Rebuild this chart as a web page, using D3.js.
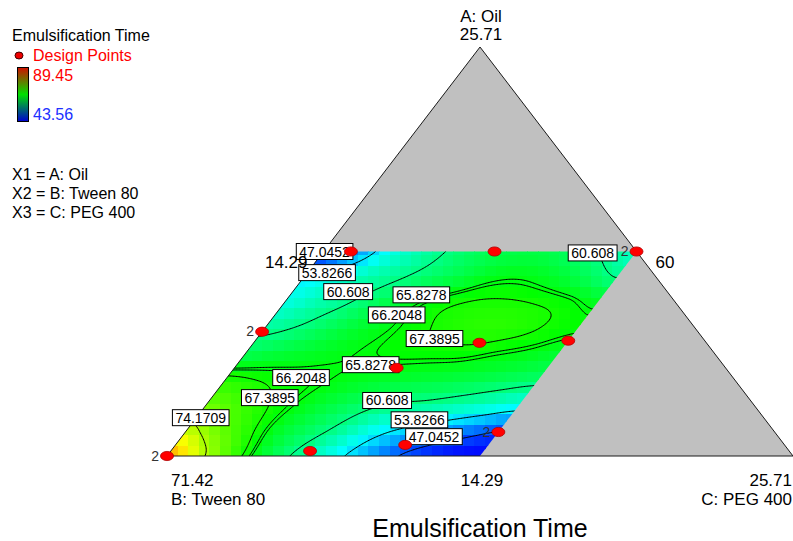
<!DOCTYPE html>
<html>
<head>
<meta charset="utf-8">
<script src="https://cdn.jsdelivr.net/npm/d3@7"></script>
<style>
  html, body { margin: 0; padding: 0; background: #ffffff; }
  svg { display: block; font-family: Arial, "Liberation Sans", sans-serif; }
</style>
</head>
<body>
<svg id="chart" width="793" height="541"></svg>
<script>
// ---- Mixture: A = Oil, B = Tween 80, C = PEG 400 (total 100 %) ----
const componentNames = ["A: Oil", "B: Tween 80", "C: PEG 400"];
const componentLow = [14.29, 60.00, 14.29];
const componentHigh = [25.71, 71.42, 25.71];

// Constrained region: A <= 20, C <= 20 (grid of predicted response)
const oilLevels = [14.29, 15.00, 15.72, 16.43, 17.15, 17.86, 18.57, 19.29, 20.00];
const pegLevels = [14.29, 14.86, 15.43, 16.00, 16.57, 17.15, 17.72, 18.29, 18.86, 19.43, 20.00];
// Emulsification time, one row per oil level (low -> high), one column per PEG level (low -> high)
const emulsificationTime = [
  [82.0, 75.5, 69.5, 64.4, 60.3, 56.5, 52.5, 48.3, 45.5, 44.0, 43.6],
  [75.5, 71.5, 68.0, 64.5, 62.0, 59.2, 55.5, 53.0, 51.0, 49.0, 47.3],
  [71.5, 69.5, 67.4, 65.5, 63.5, 61.7, 60.3, 59.7, 58.6, 57.3, 55.8],
  [68.0, 67.3, 66.6, 66.1, 65.3, 64.6, 64.1, 63.7, 63.2, 62.5, 61.8],
  [63.0, 64.0, 64.8, 65.5, 66.1, 66.5, 66.6, 66.6, 66.0, 65.4, 64.4],
  [59.6, 60.8, 62.6, 64.4, 65.8, 67.1, 67.9, 68.3, 68.0, 67.2, 66.4],
  [56.5, 58.6, 60.4, 62.6, 65.2, 66.8, 67.5, 67.6, 67.3, 66.6, 65.2],
  [54.0, 56.0, 58.5, 60.2, 61.9, 63.6, 65.3, 65.6, 64.6, 62.8, 60.5],
  [44.5, 50.0, 55.5, 58.5, 60.8, 62.5, 63.3, 63.3, 62.0, 60.2, 57.5]
];

// Contour levels and where each level is labelled (oil %, PEG %)
const contourLevels = [47.0452, 53.8266, 60.608, 65.8278, 66.2048, 67.3895, 74.1709];
const labelLevel = [47.0452, 53.8266, 60.608, 65.8278, 66.2048, 67.3895, 60.608, 65.8278, 66.2048, 67.3895, 74.1709, 60.608, 53.8266, 47.0452];
const labelOil   = [20.00, 19.41, 18.88, 18.79, 18.23, 17.57, 19.96, 16.84, 16.48, 15.92, 15.36, 15.84, 15.30, 14.83];
const labelPeg   = [14.31, 14.65, 15.30, 16.68, 16.51, 17.53, 19.22, 16.73, 15.64, 15.35, 14.37, 17.53, 18.39, 18.89];

// Design points (oil %, PEG %) and number of replicates
const designOil = [14.29, 17.76, 20.00, 20.00, 20.00, 17.51, 17.45, 16.75, 14.96, 14.60, 14.43];
const designPeg = [14.29, 14.29, 14.79, 17.41, 20.00, 20.00, 18.41, 17.25, 20.00, 18.48, 16.83];
const designReplicates = [2, 2, 1, 1, 2, 1, 1, 1, 2, 1, 1];

// Response range shown in the legend
const responseRange = [43.56, 89.45];
const legendFactors = ["X1 = A: Oil", "X2 = B: Tween 80", "X3 = C: PEG 400"];

// ---------------------------------------------------------------
const svg = d3.select("#chart");
const span = componentHigh[0] - componentLow[0];

// Ternary layout: fraction of A goes up, fraction of C goes right
const xScale = d3.scaleLinear().domain([0, 1]).range([167, 793]);
const yScale = d3.scaleLinear().domain([0, 1]).range([456, 47]);

function project(A, C) {
  const a = (A - componentLow[0]) / span;
  const c = (C - componentLow[2]) / span;
  return [xScale(c + a / 2), yScale(a)];
}
function unproject(x, y) {
  const a = yScale.invert(y);
  const c = xScale.invert(x) - a / 2;
  return [componentLow[0] + a * span, componentLow[2] + c * span];
}

// Smooth (Catmull-Rom) lookup in the response grid
const nr = oilLevels.length, nc = pegLevels.length;
const rowIndex = d3.scaleLinear().domain([oilLevels[0], oilLevels[nr - 1]]).range([0, nr - 1]).clamp(true);
const colIndex = d3.scaleLinear().domain([pegLevels[0], pegLevels[nc - 1]]).range([0, nc - 1]).clamp(true);
function gridAt(i, j) {
  i = Math.max(0, Math.min(nr - 1, i));
  j = Math.max(0, Math.min(nc - 1, j));
  return emulsificationTime[i][j];
}
function cr(p0, p1, p2, p3, t) {
  return 0.5 * (2 * p1 + (-p0 + p2) * t + (2 * p0 - 5 * p1 + 4 * p2 - p3) * t * t + (-p0 + 3 * p1 - 3 * p2 + p3) * t * t * t);
}
function predict(A, C) {
  const fi = rowIndex(A), fj = colIndex(C);
  const i = Math.min(Math.floor(fi), nr - 2), j = Math.min(Math.floor(fj), nc - 2);
  const ti = fi - i, tj = fj - j;
  const r = [-1, 0, 1, 2].map(di => cr(gridAt(i + di, j - 1), gridAt(i + di, j), gridAt(i + di, j + 1), gridAt(i + di, j + 2), tj));
  return cr(r[0], r[1], r[2], r[3], ti);
}
function predictAt(x, y) {
  const [A, C] = unproject(x, y);
  return predict(A, C);
}

const t0 = responseRange[0], t1 = responseRange[1];
const colorScale = d3.scaleLinear()
  .domain(d3.range(5).map(k => t0 + (t1 - t0) * k / 4))
  .range(["#0000ff", "#00ffff", "#00ff00", "#ffff00", "#ff0000"])
  .clamp(true);

// ---- Simplex ----
const vA = project(componentHigh[0], componentLow[2]);
const vB = project(componentLow[0], componentLow[2]);
const vC = project(componentLow[0], componentHigh[2]);
const triPath = "M" + [vA, vB, vC].map(p => p.join(",")).join("L") + "Z";
svg.append("path").attr("d", triPath).attr("fill", "#c0c0c0");

// Feasible region
const regionCorners = [
  project(oilLevels[0], pegLevels[0]),
  project(oilLevels[0], pegLevels[nc - 1]),
  project(oilLevels[nr - 1], pegLevels[nc - 1]),
  project(oilLevels[nr - 1], pegLevels[0])
];
const defs = svg.append("defs");
defs.append("clipPath").attr("id", "region")
  .append("path").attr("d", "M" + regionCorners.map(p => p.join(",")).join("L") + "Z");

const xs = regionCorners.map(p => p[0]), ys = regionCorners.map(p => p[1]);
const bx0 = d3.min(xs) - 4, bx1 = d3.max(xs) + 4, by0 = d3.min(ys) - 4, by1 = d3.max(ys) + 4;

// Colour field drawn as screen-aligned cells
const cell = 10.6;
const field = svg.append("g").attr("clip-path", "url(#region)").attr("shape-rendering", "crispEdges");
const baseY = vB[1];
for (let yTop = baseY - cell; yTop > by0 - cell; yTop -= cell) {
  for (let xLeft = vB[0]; xLeft < bx1; xLeft += cell) {
    const v = predictAt(xLeft + cell / 2, yTop + cell / 2);
    field.append("rect")
      .attr("x", xLeft).attr("y", yTop)
      .attr("width", cell + 0.6).attr("height", cell + 0.6)
      .attr("fill", colorScale(v));
  }
}

// Contour lines
const step = 1.5;
const gw = Math.ceil((bx1 - bx0) / step), gh = Math.ceil((by1 - by0) / step);
const values = new Float64Array(gw * gh);
for (let j = 0; j < gh; j++) {
  for (let i = 0; i < gw; i++) {
    values[j * gw + i] = predictAt(bx0 + (i + 0.5) * step, by0 + (j + 0.5) * step);
  }
}
const contours = d3.contours().size([gw, gh]).thresholds(contourLevels)(values);
const toScreen = d3.geoTransform({
  point(x, y) { this.stream.point(bx0 + x * step, by0 + y * step); }
});
svg.append("g").attr("clip-path", "url(#region)")
  .selectAll("path").data(contours).join("path")
  .attr("d", d3.geoPath(toScreen))
  .attr("fill", "none").attr("stroke", "#000").attr("stroke-width", 1);

// Simplex outline
svg.append("path").attr("d", triPath).attr("fill", "none").attr("stroke", "#1a1a1a").attr("stroke-width", 1);

// Contour labels
const labelG = svg.append("g").attr("font-size", 14);
labelLevel.forEach((lv, k) => {
  const [x, y] = project(labelOil[k], labelPeg[k]);
  const g = labelG.append("g");
  const txt = g.append("text").attr("x", x).attr("y", y + 5)
    .attr("text-anchor", "middle").attr("fill", "#000").text(String(lv));
  const w = txt.node().getComputedTextLength() + 6;
  g.insert("rect", "text").attr("x", x - w / 2).attr("y", y - 8).attr("width", w).attr("height", 16)
    .attr("fill", "#fff").attr("stroke", "#000").attr("stroke-width", 1);
});

// Design points
const pts = svg.append("g");
designOil.forEach((A, k) => {
  const [x, y] = project(A, designPeg[k]);
  pts.append("ellipse").attr("cx", x).attr("cy", y).attr("rx", 6.5).attr("ry", 4.6)
    .attr("fill", "#ff0000").attr("stroke", "#b00000").attr("stroke-width", 0.8);
  if (designReplicates[k] > 1) {
    pts.append("text").attr("x", x - 8).attr("y", y + 4.5).attr("text-anchor", "end")
      .attr("font-size", 14).attr("fill", "#333").text(designReplicates[k]);
  }
});

// Vertex and edge labels
const axisG = svg.append("g").attr("font-size", 17).attr("fill", "#000");
const fmt = d3.format(".2f");
const fmtLow = v => (Number.isInteger(v) ? String(v) : fmt(v));
axisG.append("text").attr("x", vA[0] + 1).attr("y", vA[1] - 25).attr("text-anchor", "middle").text(componentNames[0]);
axisG.append("text").attr("x", vA[0] + 1).attr("y", vA[1] - 7).attr("text-anchor", "middle").text(fmt(componentHigh[0]));
axisG.append("text").attr("x", vB[0] + 4).attr("y", vB[1] + 30).text(fmt(componentHigh[1]));
axisG.append("text").attr("x", vB[0] + 4).attr("y", vB[1] + 49).text(componentNames[1]);
axisG.append("text").attr("x", vC[0] - 1).attr("y", vC[1] + 30).attr("text-anchor", "end").text(fmt(componentHigh[2]));
axisG.append("text").attr("x", vC[0] - 1).attr("y", vC[1] + 49).attr("text-anchor", "end").text(componentNames[2]);
// low bounds at the middle of the opposite edges
const midAB = [(vA[0] + vB[0]) / 2, (vA[1] + vB[1]) / 2];
const midAC = [(vA[0] + vC[0]) / 2, (vA[1] + vC[1]) / 2];
const midBC = [(vB[0] + vC[0]) / 2, (vB[1] + vC[1]) / 2];
axisG.append("text").attr("x", midAB[0] - 16).attr("y", midAB[1] + 16.5).attr("text-anchor", "end").text(fmtLow(componentLow[2]));
axisG.append("text").attr("x", midAC[0] + 19).attr("y", midAC[1] + 16.5).text(fmtLow(componentLow[1]));
axisG.append("text").attr("x", midBC[0] + 2).attr("y", midBC[1] + 30).attr("text-anchor", "middle").text(fmtLow(componentLow[0]));

// Title
svg.append("text").attr("x", 480).attr("y", 537).attr("text-anchor", "middle")
  .attr("font-size", 25).attr("fill", "#000").text("Emulsification Time");

// Legend
const leg = svg.append("g").attr("font-size", 16);
leg.append("text").attr("x", 12).attr("y", 41).attr("fill", "#000").text("Emulsification Time");
leg.append("ellipse").attr("cx", 19).attr("cy", 55.5).attr("rx", 4).attr("ry", 3.5)
  .attr("fill", "#ee0000").attr("stroke", "#400000").attr("stroke-width", 1);
leg.append("text").attr("x", 33).attr("y", 61).attr("fill", "#ff0000").text("Design Points");
const grad = defs.append("linearGradient").attr("id", "legendGrad")
  .attr("x1", 0).attr("y1", 0).attr("x2", 0).attr("y2", 1);
grad.append("stop").attr("offset", "0%").attr("stop-color", "#d01000");
grad.append("stop").attr("offset", "50%").attr("stop-color", "#00e000");
grad.append("stop").attr("offset", "100%").attr("stop-color", "#0000d0");
leg.append("rect").attr("x", 17.5).attr("y", 67.5).attr("width", 11).attr("height", 54)
  .attr("fill", "url(#legendGrad)").attr("stroke", "#000").attr("stroke-width", 1);
leg.append("text").attr("x", 33).attr("y", 81).attr("fill", "#ff0000").text(responseRange[1].toFixed(2));
leg.append("text").attr("x", 33).attr("y", 120).attr("fill", "#2030ff").text(responseRange[0].toFixed(2));
legendFactors.forEach((t, k) => {
  leg.append("text").attr("x", 12).attr("y", 180 + k * 19).attr("fill", "#000").text(t);
});
</script>
</body>
</html>
